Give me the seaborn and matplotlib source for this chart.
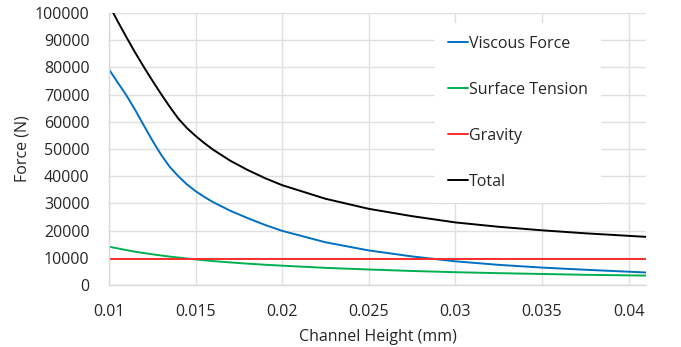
import numpy as np
import pandas as pd
import matplotlib
matplotlib.use("Agg")
import matplotlib.pyplot as plt
import seaborn as sns

# Channel height (mm)
height = [0.0100, 0.0105, 0.0110, 0.0115, 0.0120, 0.0125, 0.0130, 0.0135, 0.0140,
          0.0145, 0.0150, 0.0155, 0.0160, 0.0170, 0.0180, 0.0190, 0.0200, 0.0225,
          0.0250, 0.0275, 0.0300, 0.0325, 0.0350, 0.0375, 0.0410]
viscous = [79300, 74500, 69800, 64500, 58800, 53200, 48000, 43500, 40000,
           37000, 34500, 32400, 30500, 27300, 24600, 22100, 19900, 15700,
           12700, 10500, 8700, 7400, 6400, 5600, 4600]
surface = [14100, 13450, 12850, 12250, 11750, 11300, 10850, 10450, 10100,
           9750, 9400, 9100, 8800, 8300, 7850, 7450, 7100, 6300,
           5700, 5150, 4700, 4350, 4050, 3750, 3450]
gravity = [9600] * len(height)
total = [103000, 97000, 91200, 85600, 80300, 75200, 70300, 65600, 61200,
         57700, 54800, 52200, 49800, 45700, 42300, 39300, 36700, 31700,
         28000, 25300, 23000, 21400, 20100, 19000, 17700]

series_names = ["Viscous Force", "Surface Tension", "Gravity", "Total"]
colors = ["#0070C0", "#00B050", "#FF2B2B", "#000000"]

df = pd.concat([
    pd.DataFrame({"h": height, "F": vals, "series": name})
    for name, vals in zip(series_names, [viscous, surface, gravity, total])
])

sns.set_theme(style="whitegrid")
plt.rcParams["font.family"] = ["Open Sans", "DejaVu Sans"]

fig = plt.figure(figsize=(6.81, 3.47), dpi=100)
ax = fig.add_axes([0.160, 0.1787, 0.7886, 0.7838])

sns.lineplot(data=df, x="h", y="F", hue="series", hue_order=series_names,
             palette=dict(zip(series_names, colors)), linewidth=1.4,
             sort=False, estimator=None, ax=ax)

ax.set_xlim(0.01, 0.041)
ax.set_ylim(0, 100000)
ax.set_xticks([0.01, 0.015, 0.02, 0.025, 0.03, 0.035, 0.04])
ax.set_xticklabels(["0.01", "0.015", "0.02", "0.025", "0.03", "0.035", "0.04"])
ax.set_yticks(np.arange(0, 100001, 10000))
ax.set_yticklabels([str(v) for v in range(0, 100001, 10000)])
ax.tick_params(axis="y", labelsize=11.5, colors="#262626", length=0, pad=14)
ax.tick_params(axis="x", labelsize=11.5, colors="#262626", length=0, pad=14)
ax.set_xlabel("Channel Height (mm)", fontsize=11.5, color="#262626", labelpad=6)
ax.set_ylabel("Force (N)", fontsize=11.5, color="#262626", labelpad=3)

ax.grid(True, color="#E0E0E0", linewidth=1.0)
for s in ["top", "right"]:
    ax.spines[s].set_visible(False)
for s in ["left", "bottom"]:
    ax.spines[s].set_visible(True)
    ax.spines[s].set_color("#D9D9D9")
    ax.spines[s].set_linewidth(1.0)

leg = ax.legend(title=None, loc="upper left",
                bbox_to_anchor=(435 / 681, 1 - 23 / 347),
                bbox_transform=fig.transFigure,
                frameon=True, fancybox=False, framealpha=1.0,
                facecolor="white", edgecolor="none",
                fontsize=11.5, handlelength=1.25, handletextpad=0.1,
                labelspacing=1.88, borderpad=0.8, borderaxespad=0)
for t in leg.get_texts():
    t.set_color("#262626")
for l in leg.get_lines():
    l.set_linewidth(1.4)

fig.savefig("out.png", dpi=100)
